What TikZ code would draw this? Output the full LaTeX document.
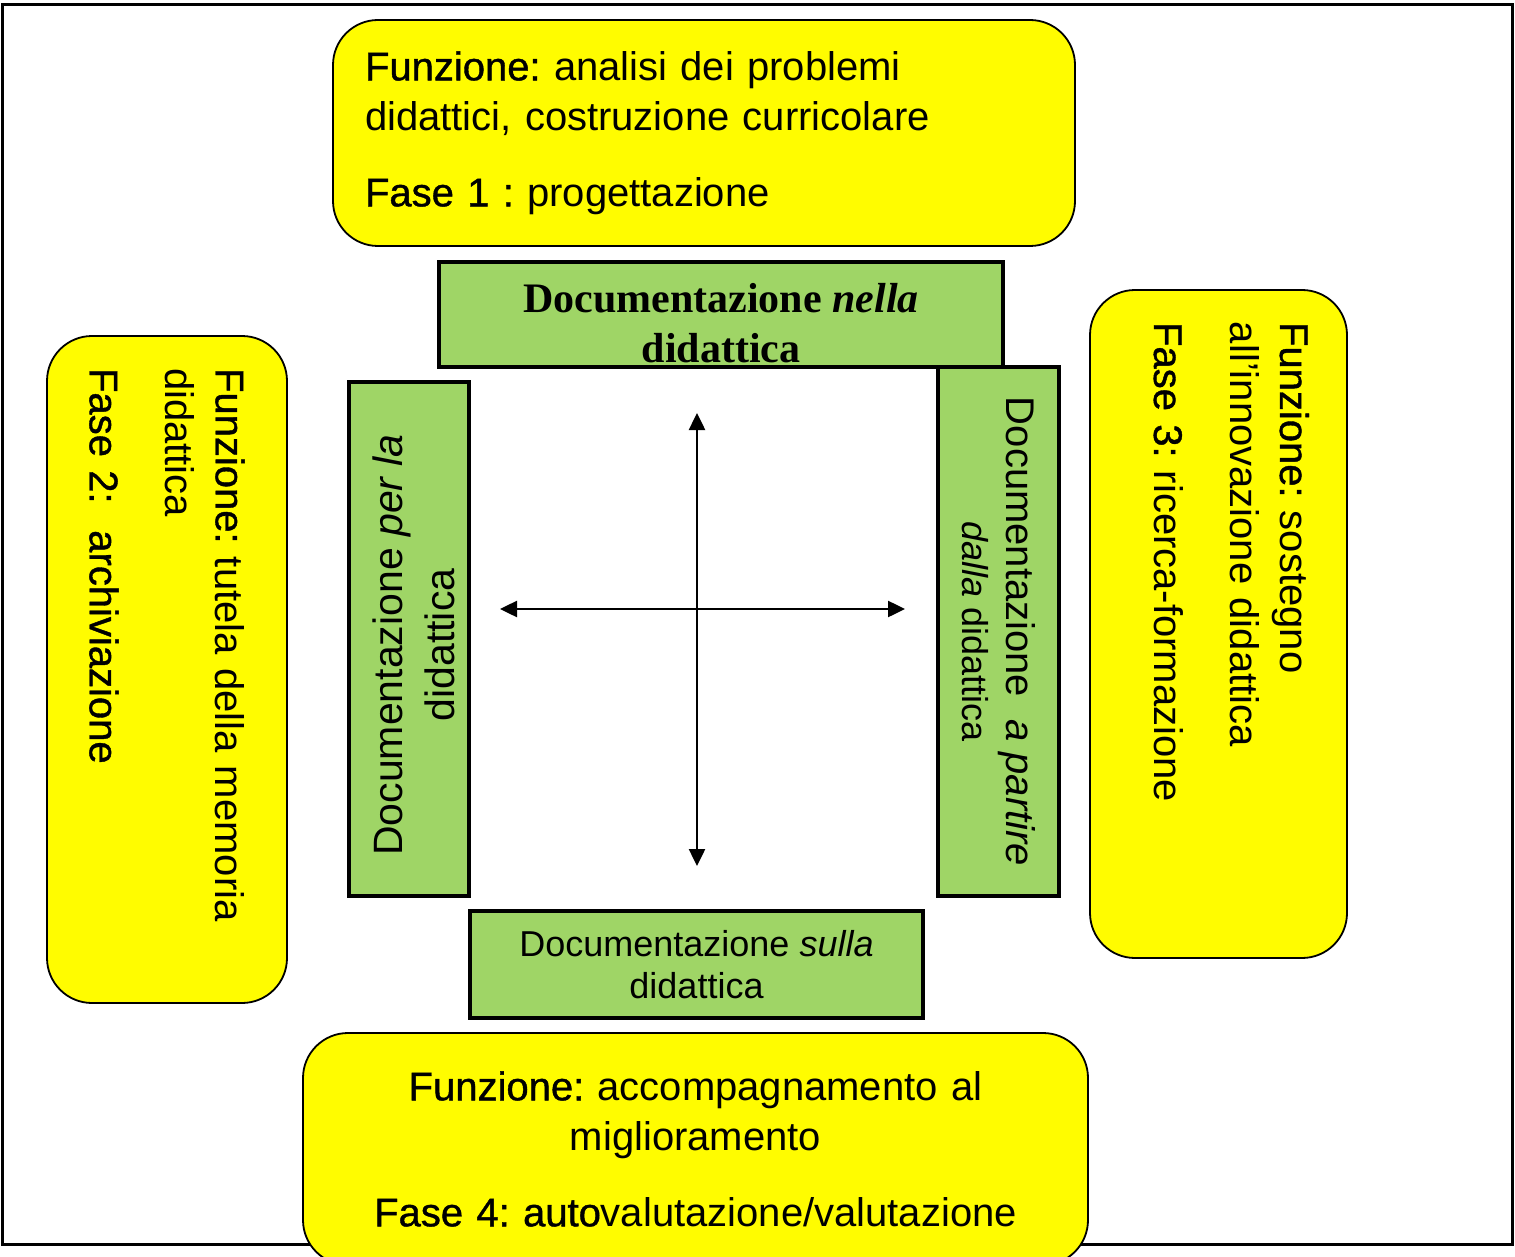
\documentclass[tikz,border=0pt]{standalone}
\usepackage{fontspec}
\setmainfont{Liberation Sans}
\newfontfamily\medfont[FakeBold=1]{Liberation Sans}
\newfontfamily\serifbold{Liberation Serif}
\usetikzlibrary{arrows.meta}
\definecolor{boxyellow}{HTML}{FFFC00}
\definecolor{boxgreen}{HTML}{9FD566}
\newcommand{\kw}[1]{{\medfont #1}}
\frenchspacing

\begin{document}
\begin{tikzpicture}[x=1pt,y=-1pt,>={Triangle[length=17pt,width=16pt]},
  funbox/.style={draw=black,line width=1.8pt,fill=boxyellow,rounded corners=45pt,inner xsep=32pt,inner ysep=0pt,font=\fontsize{40}{50}\selectfont},
  docbox/.style={draw=black,line width=3.5pt,fill=boxgreen,inner sep=0pt,align=center},
  axis/.style={<->,line width=2.5pt}]
\useasboundingbox (0,0) rectangle (1515,1257);
\clip (0,0) rectangle (1515,1257);
\fill[white] (0,0) rectangle (1515,1257);
\draw[line width=3pt] (2,5) rectangle (1512,1244);
% the four functions
\node[funbox,minimum width=742pt,minimum height=226pt,text width=678pt,align=left] (fase1) at (704,133)
  {\kw{Funzione:} analisi dei problemi\\didattici, costruzione curricolare\\[26pt]\kw{Fase 1 :} progettazione};
\node[funbox,rotate=-90,minimum width=665pt,minimum height=240pt,text width=603pt,align=left] (fase2) at (167,669.5)
  {\kw{Funzione:} tutela della memoria\\didattica\\[26pt]\kw{Fase 2:}~ \kw{archiviazione}};
\node[funbox,rotate=-90,minimum width=664pt,minimum height=257pt,text width=604pt,align=left] (fase3) at (1218.5,624)
  {\kw{Funzione:} sostegno\\all’innovazione didattica\\[26pt]\kw{Fase 3:} ricerca-formazione\rule[-26pt]{0pt}{0pt}};
\node[funbox,minimum width=785pt,minimum height=232pt,text width=721pt,align=center] (fase4) at (695.5,1149)
  {\kw{Funzione:} accompagnamento al\\miglioramento\\[26pt]\kw{Fase 4: auto}valutazione/valutazione};
% the four kinds of documentation
\node[docbox,minimum width=564pt,minimum height=105pt,font=\serifbold\bfseries\fontsize{42}{50}\selectfont] (nella) at (721,314.5)
  {\rule{0pt}{47pt}Documentazione \textit{nella}\\didattica};
\node[docbox,rotate=90,minimum width=514pt,minimum height=120pt,font=\fontsize{41}{52}\selectfont] (perla) at (409,639)
  {\rule{0pt}{40pt}Documentazione \textit{per la}\hspace*{12pt}\\didattica\hspace*{12pt}};
\node[docbox,rotate=-90,minimum width=529pt,minimum height=121pt,font=\fontsize{40}{44}\selectfont] (apartire) at (998.5,631.5)
  {Documentazione~~\textit{a partire}\\{\fontsize{36}{44}\selectfont\textit{dalla} didattica}};
\node[docbox,minimum width=453pt,minimum height=107pt,font=\fontsize{36}{42}\selectfont] (sulla) at (696.5,964.5)
  {Documentazione \textit{sulla}\\didattica};
% cross
\coordinate (up) at (697,413);
\coordinate (down) at (697,866);
\coordinate (left) at (500,609);
\coordinate (right) at (905,609);
\draw[axis] (up) -- (down);
\draw[axis] (left) -- (right);
\end{tikzpicture}
\end{document}
